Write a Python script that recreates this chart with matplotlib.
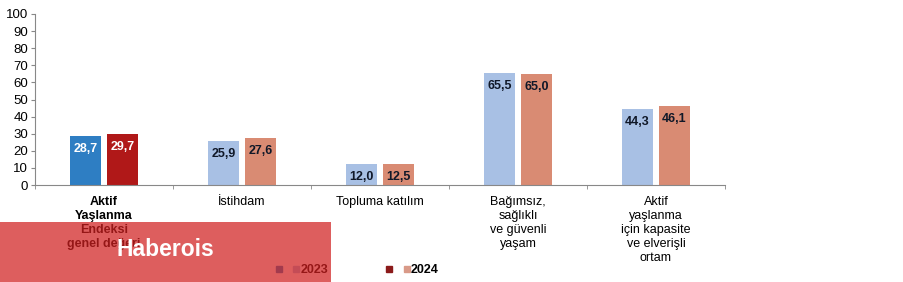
import matplotlib.pyplot as plt
from matplotlib.patches import Rectangle
from matplotlib.legend_handler import HandlerTuple
from matplotlib.lines import Line2D
import numpy as np

plt.rcParams['font.family'] = ['Liberation Sans', 'DejaVu Sans']

categories = ['Aktif\nYaşlanma\nEndeksi\ngenel değeri', 'İstihdam', 'Topluma katılım',
              'Bağımsız,\nsağlıklı\nve güvenli\nyaşam',
              'Aktif\nyaşlanma\niçin kapasite\nve elverişli\nortam']
values_2023 = [28.7, 25.9, 12.0, 65.5, 44.3]
values_2024 = [29.7, 27.6, 12.5, 65.0, 46.1]
years = ['2023', '2024']

colors_2023 = ['#2e7ec3'] + ['#a8c0e4'] * 4
colors_2024 = ['#b01818'] + ['#d98b73'] * 4

fig = plt.figure(figsize=(9.04, 2.82), dpi=100)
ax = fig.add_axes([35 / 904, 1 - 185 / 282, 690 / 904, 171 / 282])

x = np.arange(len(categories))
w = 0.225
off = 0.134
b1 = ax.bar(x - off, values_2023, w, color=colors_2023)
b2 = ax.bar(x + off, values_2024, w, color=colors_2024)

for bars, vals in ((b1, values_2023), (b2, values_2024)):
    for i, (bar, v) in enumerate(zip(bars, vals)):
        ax.annotate(f"{v:.1f}".replace('.', ','),
                    xy=(bar.get_x() + bar.get_width() / 2, v),
                    xytext=(0, -5), textcoords='offset points',
                    ha='center', va='top', fontsize=9, fontweight='bold',
                    color='white' if i == 0 else '#101828')

ax.set_xlim(-0.5, 4.5)
ax.set_ylim(0, 100)
ax.set_yticks(range(0, 101, 10))
ax.tick_params(axis='y', labelsize=9.5, length=3, color='#888888', pad=2)
ax.set_xticks(x)
ax.set_xticklabels(categories, fontsize=9, linespacing=1.22)
ax.get_xticklabels()[0].set_fontweight('bold')
ax.set_xticks(np.arange(-0.5, 5, 1), minor=True)
ax.tick_params(axis='x', which='major', length=0, pad=8)
ax.tick_params(axis='x', which='minor', length=3, color='#888888')
for s in ('top', 'right'):
    ax.spines[s].set_visible(False)
for s in ('left', 'bottom'):
    ax.spines[s].set_color('#888888')

handles = [
    (Line2D([], [], marker='s', ls='', color='#2e7ec3', markersize=5),
     Line2D([], [], marker='s', ls='', color='#a8c0e4', markersize=5)),
    (Line2D([], [], marker='s', ls='', color='#8b1a1a', markersize=5),
     Line2D([], [], marker='s', ls='', color='#d99a88', markersize=5)),
]
leg = fig.legend(handles, years, handler_map={tuple: HandlerTuple(ndivide=None, pad=0.8)},
                 ncol=2, frameon=False, loc='center left',
                 bbox_to_anchor=(269 / 904, 1 - 270 / 282),
                 prop={'size': 9, 'weight': 'bold'},
                 handlelength=2.0, handletextpad=0.0, columnspacing=4.6, borderpad=0)

fig.add_artist(Rectangle((0, 0), 331 / 904, 60 / 282, transform=fig.transFigure,
                         facecolor='#d02020', alpha=0.72, edgecolor='none', zorder=10))
fig.text(165 / 904, 1 - 249 / 282, 'Haberois', color='white', fontsize=16.5,
         fontweight='bold', ha='center', va='center', zorder=11)

fig.savefig('out.png', dpi=100)
